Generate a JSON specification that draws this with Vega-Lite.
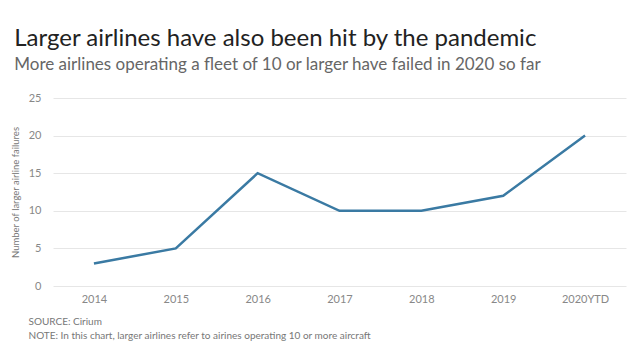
{
  "$schema": "https://vega.github.io/schema/vega-lite/v6.json",
  "width": 640,
  "height": 350,
  "autosize": {"type": "fit", "contains": "padding"},
  "padding": {"left": 10, "right": 14, "top": 27, "bottom": 10},
  "background": "white",
  "title": {
    "text": "Larger airlines have also been hit by the pandemic",
    "subtitle": "More airlines operating a fleet of 10 or larger have failed in 2020 so far",
    "anchor": "start",
    "frame": "bounds",
    "font": "Lato",
    "fontSize": 24,
    "fontWeight": "normal",
    "color": "#222222",
    "subtitleFont": "Lato",
    "subtitleFontSize": 17,
    "subtitleColor": "#666666",
    "subtitlePadding": 6,
    "offset": 19,
    "dx": 4
  },
  "data": {
    "values": [
      {"year": "2014", "failures": 3},
      {"year": "2015", "failures": 5},
      {"year": "2016", "failures": 15},
      {"year": "2017", "failures": 10},
      {"year": "2018", "failures": 10},
      {"year": "2019", "failures": 12},
      {"year": "2020YTD", "failures": 20}
    ]
  },
  "mark": {"type": "line", "color": "#3a7aa3", "strokeWidth": 2.5},
  "encoding": {
    "x": {
      "field": "year",
      "type": "ordinal",
      "scale": {"type": "point", "padding": 0.5},
      "axis": {
        "labelAngle": 0,
        "domain": false,
        "ticks": false,
        "labelPadding": 7,
        "labelColor": "#888888",
        "labelFont": "Lato",
        "labelFontSize": 11,
        "title": ["SOURCE: Cirium", "NOTE: In this chart, larger airlines refer to airines operating 10 or more aircraft"],
        "titleFont": "Lato",
        "titleFontSize": 10,
        "titleFontWeight": "normal",
        "titleColor": "#777777",
        "titleAnchor": "start",
        "titleAlign": "left",
        "titleX": -25,
        "titlePadding": 12,
        "titleLineHeight": 14
      }
    },
    "y": {
      "field": "failures",
      "type": "quantitative",
      "scale": {"domain": [0, 25]},
      "axis": {
        "values": [0, 5, 10, 15, 20, 25],
        "domain": false,
        "ticks": false,
        "labelPadding": 12,
        "labelColor": "#888888",
        "labelFont": "Lato",
        "labelFontSize": 11,
        "gridColor": "#e6e6e6",
        "title": "Number of larger airline failures",
        "titleFont": "Lato",
        "titleFontSize": 9.5,
        "titleFontWeight": "normal",
        "titleColor": "#777777",
        "titlePadding": 8
      }
    }
  },
  "config": {"view": {"stroke": null}}
}
